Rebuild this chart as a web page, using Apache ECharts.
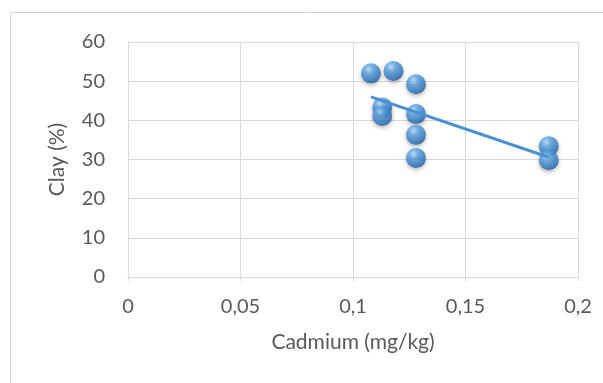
<!DOCTYPE html>
<html>
<head>
<meta charset="utf-8">
<script src="https://cdn.jsdelivr.net/npm/echarts@6/dist/echarts.min.js"></script>
<style>
  html, body { margin: 0; padding: 0; background: #ffffff; }
  #chart { width: 603px; height: 383px; }
</style>
</head>
<body>
<div id="chart"></div>
<script>
// Cadmium concentration (mg/kg) against clay content (%)
const cadmium = [0.108, 0.118, 0.128, 0.113, 0.113, 0.128, 0.128, 0.128, 0.187, 0.187];
const clay    = [52.0, 52.6, 49.2, 43.3, 41.1, 41.6, 36.3, 30.4, 33.4, 29.8];

const xTickValues = [0, 0.05, 0.1, 0.15, 0.2];
const xTickLabels = ['0', '0,05', '0,1', '0,15', '0,2'];
const yTickValues = [0, 10, 20, 30, 40, 50, 60];
const yTickLabels = ['0', '10', '20', '30', '40', '50', '60'];

// Least-squares linear trendline over the observed range
function linearFit(xs, ys) {
  const n = xs.length;
  const mx = xs.reduce((a, b) => a + b, 0) / n;
  const my = ys.reduce((a, b) => a + b, 0) / n;
  let sxy = 0, sxx = 0;
  for (let i = 0; i < n; i++) {
    sxy += (xs[i] - mx) * (ys[i] - my);
    sxx += (xs[i] - mx) * (xs[i] - mx);
  }
  const slope = sxy / sxx;
  return x => my + slope * (x - mx);
}
const fit = linearFit(cadmium, clay);
const xMin = Math.min(...cadmium), xMax = Math.max(...cadmium);
const trend = [[xMin, fit(xMin)], [xMax, fit(xMax)]];

const points = cadmium.map((x, i) => [x, clay[i]]);

const font = 'Lato, "Open Sans", sans-serif';
const labelColor = '#595959';
const gridColor = '#d9d9d9';

const sphere = new echarts.graphic.RadialGradient(0.38, 0.3, 0.75, [
  { offset: 0, color: '#bfe0fb' },
  { offset: 0.3, color: '#5aa6e6' },
  { offset: 0.75, color: '#2f78c0' },
  { offset: 1, color: '#1d5796' }
]);

function pickLabel(values, labels) {
  return v => {
    const i = values.findIndex(t => Math.abs(t - v) < 1e-9);
    return i >= 0 ? labels[i] : '';
  };
}

const chart = echarts.init(document.getElementById('chart'), null, { renderer: 'canvas' });
chart.setOption({
  animation: false,
  backgroundColor: '#ffffff',
  graphic: [{
    type: 'rect',
    shape: { x: 10.5, y: 12.5, width: 620, height: 400 },
    style: { fill: 'none', stroke: gridColor, lineWidth: 1 },
    silent: true
  }],
  grid: { left: 128, right: 25, top: 42, bottom: 106 },
  xAxis: {
    type: 'value',
    min: 0, max: 0.2, interval: 0.05,
    name: 'Cadmium (mg/kg)',
    nameLocation: 'middle',
    nameGap: 55,
    nameTextStyle: { color: labelColor, fontFamily: font, fontSize: 21 },
    axisLine: { show: true, lineStyle: { color: gridColor, width: 1 } },
    axisTick: { show: true, length: 4, lineStyle: { color: gridColor } },
    axisLabel: {
      color: labelColor, fontFamily: font, fontSize: 20, margin: 20,
      formatter: pickLabel(xTickValues, xTickLabels)
    },
    splitLine: { show: true, lineStyle: { color: gridColor, width: 1 } }
  },
  yAxis: {
    type: 'value',
    min: 0, max: 60, interval: 10,
    name: 'Clay (%)',
    nameLocation: 'middle',
    nameGap: 60,
    nameRotate: 90,
    nameTextStyle: { color: labelColor, fontFamily: font, fontSize: 21 },
    axisLine: { show: true, lineStyle: { color: gridColor, width: 1 } },
    axisTick: { show: false },
    axisLabel: {
      color: labelColor, fontFamily: font, fontSize: 20, margin: 23,
      formatter: pickLabel(yTickValues, yTickLabels)
    },
    splitLine: { show: true, lineStyle: { color: gridColor, width: 1 } }
  },
  series: [
    {
      type: 'scatter',
      data: points,
      symbol: 'circle',
      symbolSize: 20,
      z: 3,
      itemStyle: {
        color: sphere,
        shadowColor: 'rgba(0,0,0,0.35)',
        shadowBlur: 4,
        shadowOffsetY: 2
      }
    },
    {
      type: 'line',
      data: trend,
      symbol: 'none',
      z: 4,
      lineStyle: { color: '#4a90d2', width: 3 }
    }
  ]
});
</script>
</body>
</html>
